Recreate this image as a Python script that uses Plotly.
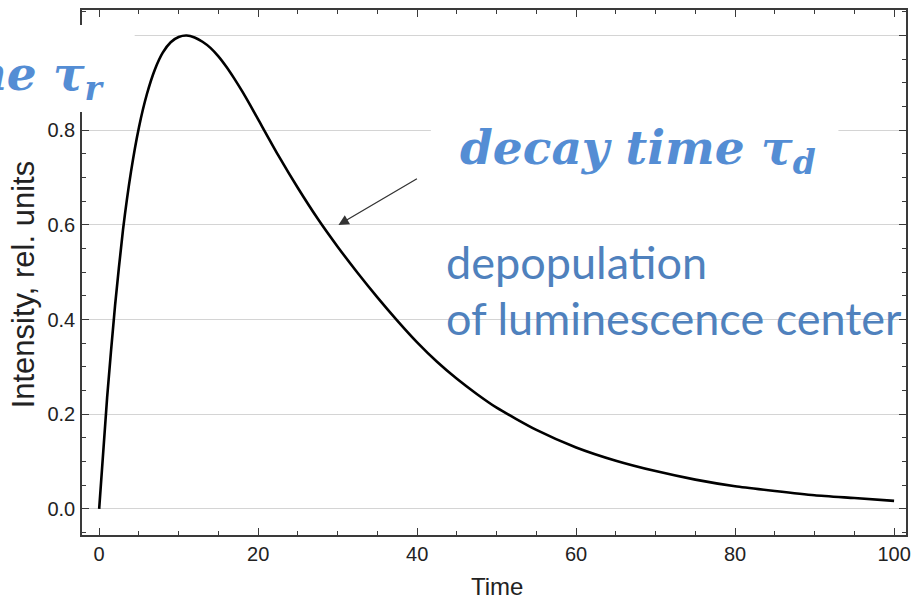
import plotly.graph_objects as go

# Luminescence pulse: rise then exponential decay (relative units)
time = [0, 1, 2, 3, 4, 5, 6, 7, 8, 9, 10, 11, 12, 13, 14, 15, 16, 17, 18, 19, 20,
        22.5, 25, 27.5, 30, 32.5, 35, 37.5, 40, 42.5, 45, 47.5, 50, 55, 60, 65, 70,
        75, 80, 85, 90, 95, 100]
intensity = [0, 0.235, 0.43, 0.59, 0.712, 0.806, 0.876, 0.928, 0.964, 0.986, 0.997,
             1.0, 0.996, 0.987, 0.974, 0.956, 0.934, 0.909, 0.882, 0.853, 0.823,
             0.748, 0.678, 0.613, 0.554, 0.499, 0.447, 0.398, 0.352, 0.311, 0.275,
             0.243, 0.214, 0.167, 0.13, 0.102, 0.08, 0.062, 0.048, 0.038, 0.029,
             0.023, 0.017]

x_ticks = [0, 20, 40, 60, 80, 100]
x_grid = [20, 40, 60, 80]
y_ticks = [0.0, 0.2, 0.4, 0.6, 0.8, 1.0]
y_tick_text = ["0.0", "0.2", "0.4", "0.6", "0.8", "1.0"]

W, H = 917, 603
L, R, T, B = 82, 911, 10, 535

def px(xp):
    return (xp - L) / (R - L)

def py(yp):
    return (B - yp) / (B - T)

FRAME = "#3a3a3a"
GRID = "#d4d4d4"
BLUE_MATH = "#548DD4"
BLUE_TEXT = "#4F81BD"
SANS = "Liberation Sans, Arial, sans-serif"

fig = go.Figure()
fig.add_trace(go.Scatter(x=time, y=intensity, mode="lines",
                         line=dict(color="black", width=2.6, shape="spline", smoothing=0.6),
                         hoverinfo="skip", showlegend=False))

axis_common = dict(showline=True, linecolor=FRAME, linewidth=1.5, mirror="ticks",
                   ticks="inside", ticklen=7, tickwidth=1.2, tickcolor=FRAME,
                   zeroline=False, tickfont=dict(family=SANS, size=20, color="#222"))

fig.update_layout(
    width=W, height=H,
    margin=dict(l=L, r=W - R, t=T, b=H - B),
    paper_bgcolor="white", plot_bgcolor="white",
    xaxis=dict(range=[-2.16, 101.5], tickvals=x_ticks, showgrid=False,
               minor=dict(ticks="inside", dtick=5, ticklen=4, tickcolor=FRAME, showgrid=False),
               ticklabelstandoff=0, **axis_common),
    xaxis2=dict(range=[-2.16, 101.5], overlaying="x", tickvals=x_grid, showgrid=True,
                gridcolor=GRID, gridwidth=1, showticklabels=False, ticks="",
                showline=False, zeroline=False),
    yaxis=dict(range=[-0.055, 1.054], tickvals=y_ticks, ticktext=y_tick_text,
               showgrid=True, gridcolor=GRID, gridwidth=1,
               minor=dict(ticks="inside", dtick=0.05, ticklen=4, tickcolor=FRAME, showgrid=False),
               ticklabelstandoff=1, **axis_common),
)

# white label panels
fig.add_shape(type="rect", xref="paper", yref="paper",
              x0=px(0), x1=px(135), y0=py(112), y1=py(25),
              fillcolor="white", line=dict(width=0), layer="above")
fig.add_shape(type="rect", xref="paper", yref="paper",
              x0=px(433), x1=px(843), y0=py(188), y1=py(103),
              fillcolor="white", line=dict(width=0), layer="above")

# axis titles
fig.add_annotation(text="Time", xref="paper", yref="paper", x=px(500), y=py(602),
                   showarrow=False, xanchor="center", yanchor="bottom",
                   font=dict(family=SANS, size=24, color="#222"))
fig.add_annotation(text="Intensity, rel. units", xref="paper", yref="paper",
                   x=px(23), y=py(284), textangle=-90, showarrow=False,
                   xanchor="center", yanchor="middle",
                   font=dict(family=SANS, size=31, color="#222"))

# labels
fig.add_annotation(text="<b><i>rise time τ<sub>r</sub></i></b>", xref="paper", yref="paper",
                   x=px(107), y=py(77), showarrow=False, xanchor="right", yanchor="middle",
                   font=dict(family="DejaVu Serif, serif", size=47, color=BLUE_MATH))
fig.add_annotation(text="<b><i>decay time τ<sub>d</sub></i></b>", xref="paper", yref="paper",
                   x=px(460), y=py(151), showarrow=False, xanchor="left", yanchor="middle",
                   font=dict(family="DejaVu Serif, serif", size=47, color=BLUE_MATH))
fig.add_annotation(text="depopulation", xref="paper", yref="paper",
                   x=px(446), y=py(262), showarrow=False, xanchor="left", yanchor="middle",
                   font=dict(family="Lato, sans-serif", size=45, color=BLUE_TEXT))
fig.add_annotation(text="of luminescence center", xref="paper", yref="paper",
                   x=px(446), y=py(318), showarrow=False, xanchor="left", yanchor="middle",
                   font=dict(family="Lato, sans-serif", size=45, color=BLUE_TEXT))

# arrow pointing at the decaying part of the curve
fig.add_annotation(x=30.1, y=0.6, xref="x", yref="y", text="", showarrow=True,
                   ax=80, ay=-47, arrowhead=2, arrowsize=1.6, arrowwidth=1.3,
                   arrowcolor="#333", standoff=0)

fig.write_html("out.html")
